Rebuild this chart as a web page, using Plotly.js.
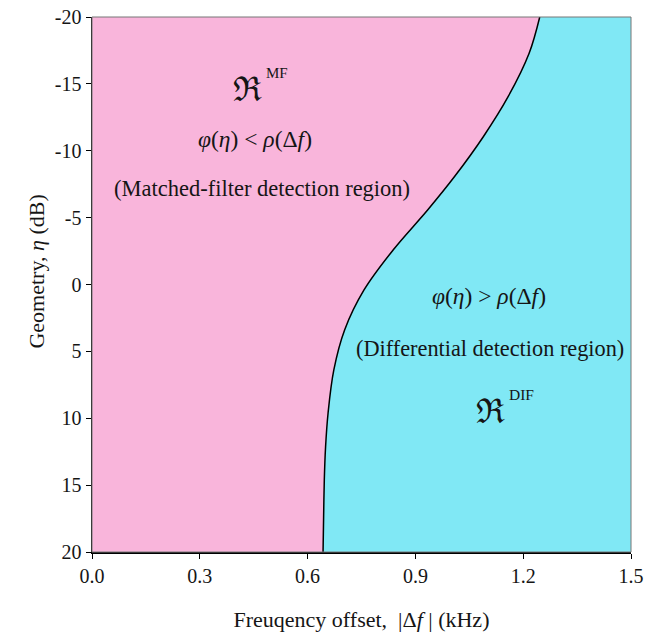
<!DOCTYPE html>
<html>
<head>
<meta charset="utf-8">
<script src="https://cdn.plot.ly/plotly-3.0.1.min.js"></script>
<style>html,body{margin:0;padding:0;background:#fff;}#chart{width:646px;height:633px;}</style>
</head>
<body>
<div id="chart"></div>
<script>
// Boundary curve between regions: frequency offset (kHz) vs geometry eta (dB)
var boundaryEta  = [-20, -17.29, -14.04, -11.05, -8.07, -5.57, -2.58, 0.41, 3.40, 6.39, 9.61, 12.15, 14.6, 17.5, 20];
var boundaryFreq = [1.246, 1.2165, 1.158, 1.089, 1.009, 0.934, 0.838, 0.757, 0.703, 0.673, 0.657, 0.650, 0.6465, 0.6445, 0.643];

var yTickVals = [-20, -15, -10, -5, 0, 5, 10, 15, 20];
var yTickText = ["-20", "-15", "-10", "-5", "0", "5", "10", "15", "20"];
var xTickVals = [0, 0.3, 0.6, 0.9, 1.2, 1.5];
var xTickText = ["0.0", "0.3", "0.6", "0.9", "1.2", "1.5"];

var pink = "#F9B5DB";
var cyan = "#80E8F5";
var serif = "Liberation Serif, Times New Roman, serif";
var ink = "#151515";

var traces = [{
  type: "scatter",
  mode: "lines",
  x: boundaryFreq,
  y: boundaryEta,
  fill: "tozerox",
  fillcolor: pink,
  line: {color: "#000", width: 1.5, shape: "spline", smoothing: 1},
  hoverinfo: "skip",
  showlegend: false
}];

function ann(x, y, text, size) {
  return {x: x, y: y, xref: "x", yref: "y", showarrow: false, text: text,
          font: {family: serif, size: size, color: ink}};
}

var layout = {
  width: 646,
  height: 633,
  margin: {l: 92, r: 15, t: 17, b: 81},
  paper_bgcolor: "#ffffff",
  plot_bgcolor: cyan,
  font: {family: serif, size: 20, color: ink},
  showlegend: false,
  xaxis: {
    range: [0, 1.5],
    tickvals: xTickVals,
    ticktext: xTickText,
    ticks: "outside",
    ticklen: 5,
    tickcolor: "#000",
    tickwidth: 1,
    showline: true,
    linecolor: "#000",
    linewidth: 1.5,
    showgrid: false,
    zeroline: false,
    tickfont: {family: serif, size: 20, color: ink},
    title: {text: "Freuqency offset,  |Δ<i>f</i> | (kHz)", font: {family: serif, size: 22, color: ink}, standoff: 26}
  },
  yaxis: {
    range: [20, -20],
    tickvals: yTickVals,
    ticktext: yTickText,
    ticks: "outside",
    ticklen: 5,
    tickcolor: "#000",
    tickwidth: 1,
    showline: true,
    linecolor: "#000",
    linewidth: 1.5,
    showgrid: false,
    zeroline: false,
    tickfont: {family: serif, size: 20, color: ink}
  },
  shapes: [{
    type: "rect", xref: "paper", yref: "paper", x0: 0, y0: 0, x1: 1, y1: 1,
    line: {color: "#777", width: 1}, layer: "above"
  }],
  annotations: [
    {xref: "paper", yref: "paper", x: -0.13, y: 0.525, textangle: -90, showarrow: false,
     text: "Geometry, <i>η</i> (dB)", font: {family: serif, size: 22, color: ink}},
    ann(0.434, -14.6, "ℜ", 34),
    ann(0.516, -15.8, "MF", 15),
    ann(0.454, -10.9, "<i>φ</i>(<i>η</i>) &lt; <i>ρ</i>(Δ<i>f</i>)", 23.5),
    ann(0.473, -7.2, "(Matched-filter detection region)", 22.5),
    ann(1.105, 0.86, "<i>φ</i>(<i>η</i>) &gt; <i>ρ</i>(Δ<i>f</i>)", 23.5),
    ann(1.108, 4.82, "(Differential detection region)", 22.3),
    ann(1.108, 9.46, "ℜ", 34),
    ann(1.194, 8.2, "DIF", 15.5)
  ]
};

Plotly.newPlot("chart", traces, layout, {displayModeBar: false, staticPlot: true});
</script>
</body>
</html>
